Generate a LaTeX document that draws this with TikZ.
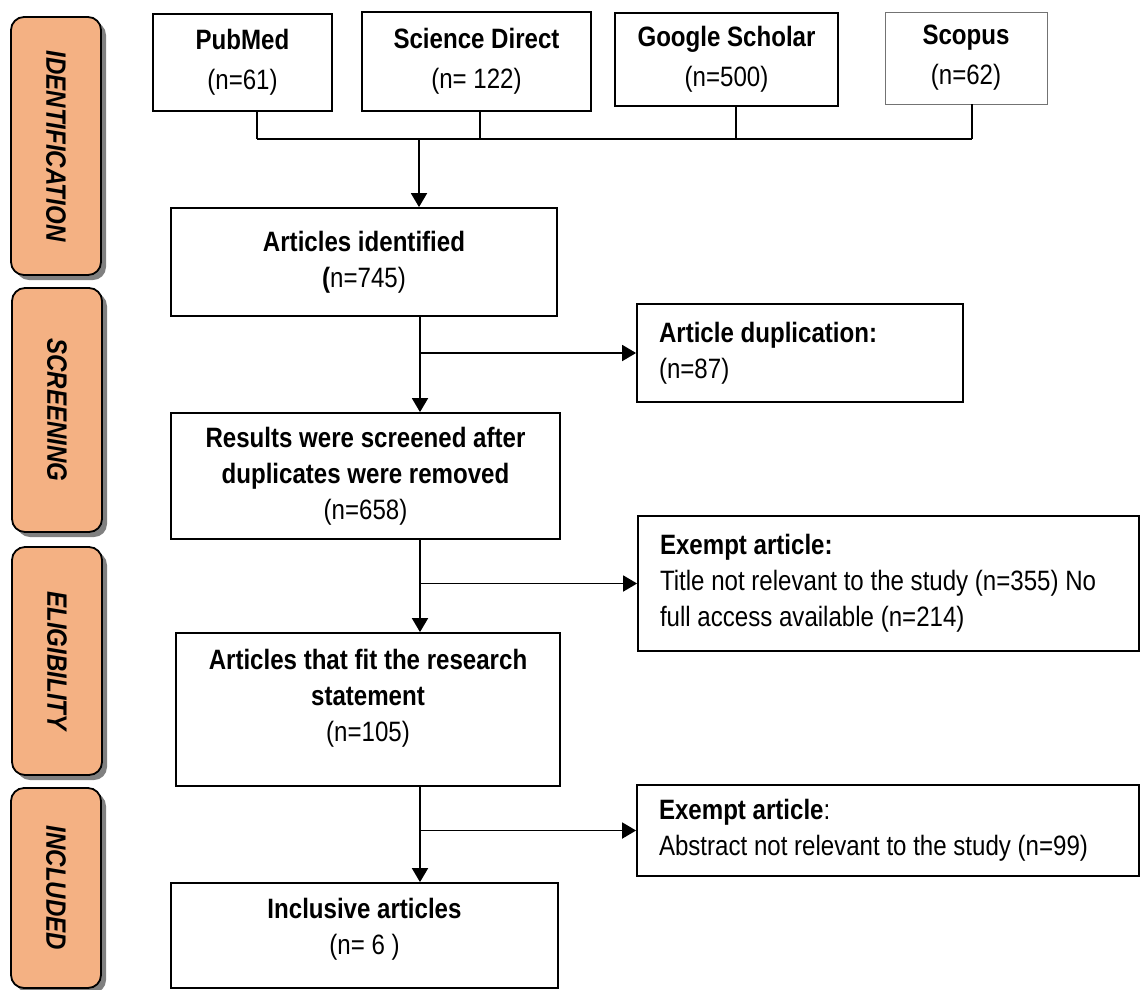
\documentclass[tikz,border=0pt]{standalone}
\usepackage{fontspec}
\setmainfont[FakeStretch=0.86]{Liberation Sans}
\usetikzlibrary{arrows.meta}
\usetikzlibrary{shadows}

\definecolor{phasefill}{RGB}{244,177,131}

\begin{document}
\begin{tikzpicture}[x=1pt,y=-1pt,
  every node/.style={font=\fontsize{28}{36}\selectfont},
  phase/.style={draw, line width=1.8pt, rounded corners=13pt, fill=phasefill, minimum width=90pt, inner sep=0pt,
    font=\fontsize{28}{36}\selectfont\bfseries\itshape,
    drop shadow={shadow xshift=5pt, shadow yshift=-5pt, fill=black!50, opacity=1}},
  srcbox/.style={draw, line width=1.8pt, align=center, inner sep=0pt, font=\fontsize{28}{40}\selectfont},
  stagebox/.style={draw, line width=1.8pt, align=center, inner sep=0pt},
  exbox/.style={draw, line width=1.8pt, align=flush left, inner xsep=22pt, inner ysep=0pt},
  link/.style={line width=1.6pt},
  arr/.style={line width=1.8pt, -{Triangle[length=14pt,width=16pt]}}
]
\useasboundingbox (0,0) rectangle (1140,989);

% stages on the left
\node[phase, minimum height=258pt] (lblid) at (56,146) {\rotatebox{-90}{IDENTIFICATION}};
\node[phase, minimum height=244pt] (lblscr) at (57,410) {\rotatebox{-90}{SCREENING}};
\node[phase, minimum height=228pt] (lblelig) at (57,661) {\rotatebox{-90}{ELIGIBILITY}};
\node[phase, minimum height=200pt] (lblincl) at (56,888) {\rotatebox{-90}{INCLUDED}};

% databases
\node[srcbox, minimum width=179pt, minimum height=97pt] (pubmed) at (242.5,62.5) {\textbf{PubMed}\\(n=61)};
\node[srcbox, minimum width=229pt, minimum height=99pt] (scidir) at (476.5,61.5) {\textbf{Science Direct}\\(n= 122)};
\node[srcbox, minimum width=223pt, minimum height=93pt] (scholar) at (726.5,59.5) {\textbf{Google Scholar}\\(n=500)};
\node[srcbox, draw=black!55, line width=0.8pt, minimum width=162pt, minimum height=92pt] (scopus) at (966,58) {\textbf{Scopus}\\(n=62)};

% flow
\node[stagebox, minimum width=386pt, minimum height=108pt] (ident) at (364,262) {\textbf{Articles identified}\\\textbf{(}n=745)};
\node[exbox, text width=282pt, minimum height=98pt] (dup) at (800,353) {\textbf{Article duplication:}\\(n=87)};
\node[stagebox, minimum width=389pt, minimum height=126pt] (screened) at (365.5,476) {\textbf{Results were screened after}\\\textbf{duplicates were removed}\\(n=658)};
\node[exbox, text width=457pt, minimum height=135pt] (exone) at (888.5,583.5) {\textbf{Exempt article:}\\Title not relevant to the study (n=355) No\\full access available (n=214)};
\node[stagebox, minimum width=384pt, minimum height=153pt] (fit) at (368,709.5) {\textbf{Articles that fit the research}\\\textbf{statement}\\(n=105)\\[-7pt]\mbox{}};
\node[exbox, text width=458pt, minimum height=91pt] (extwo) at (888,830.5) {\textbf{Exempt article}:\\Abstract not relevant to the study (n=99)};
\node[stagebox, minimum width=387pt, minimum height=105pt] (incl) at (364.5,935.5) {\textbf{Inclusive articles}\\(n= 6 )\\[-18pt]\mbox{}};

% bus under the databases
\coordinate (pubmed-bus) at (257,139);
\coordinate (scidir-bus) at (480,139);
\coordinate (scholar-bus) at (736,139);
\coordinate (scopus-bus) at (972,139);
\coordinate (drop) at (419,139);
\coordinate (spine) at (420,0);

\foreach \src in {pubmed,scidir,scholar,scopus}
  \draw[link] (\src.south -| \src-bus) -- (\src-bus);
\draw[link] (pubmed-bus) -- (scopus-bus);
\draw[arr] (drop) -- (ident.north -| drop);

\draw[arr] (ident.south -| spine) -- (screened.north -| spine);
\draw[arr] (dup.west -| spine) -- (dup.west);
\draw[arr] (screened.south -| spine) -- (fit.north -| spine);
\draw[arr] (exone.west -| spine) -- (exone.west);
\draw[arr] (fit.south -| spine) -- (incl.north -| spine);
\draw[arr] (extwo.west -| spine) -- (extwo.west);

\end{tikzpicture}
\end{document}
